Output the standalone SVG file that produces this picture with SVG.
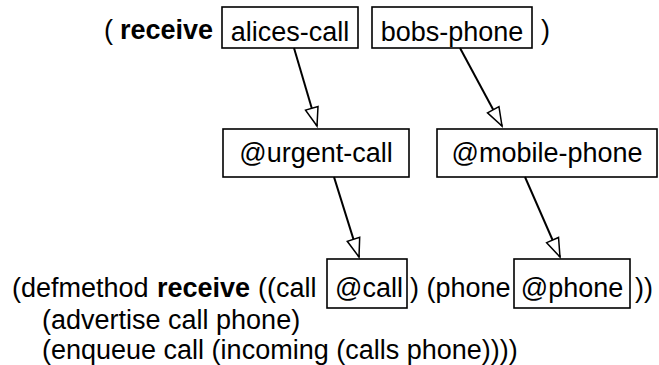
<svg xmlns="http://www.w3.org/2000/svg" width="659" height="365" viewBox="0 0 659 365">
  <style>
    text { font-family: "Liberation Sans", Arial, Helvetica, sans-serif; font-size: 27px; fill: #000; }
    .b { font-weight: bold; }
    .lbl { text-anchor: middle; }
    .box { fill: #fff; stroke: #000; stroke-width: 1.6; }
    .edge { fill: none; stroke: #000; stroke-width: 2; marker-end: url(#open); }
  </style>
  <defs>
    <marker id="open" markerUnits="userSpaceOnUse" markerWidth="22" markerHeight="18" viewBox="0 0 22 18" refX="20" refY="9" orient="auto">
      <path d="M1.5,2.5 L20,9 L1.5,15.5 Z" fill="#fff" stroke="#000" stroke-width="1.5" stroke-linejoin="miter"/>
    </marker>
  </defs>
  <rect width="659" height="365" fill="#fff"/>

  <g id="code-top">
    <text x="104" y="39">(</text>
    <text x="120" y="39" class="b">receive</text>
    <text x="541" y="39">)</text>
  </g>
  <g id="node-alices-call">
    <rect class="box" x="222" y="7" width="136" height="41"/>
    <text class="lbl" x="290" y="41">alices-call</text>
  </g>
  <g id="node-bobs-phone">
    <rect class="box" x="372" y="7" width="160" height="41"/>
    <text class="lbl" x="452" y="41">bobs-phone</text>
  </g>
  <g id="node-urgent-call">
    <rect class="box" x="223" y="129" width="186" height="48"/>
    <text class="lbl" x="316" y="162">@urgent-call</text>
  </g>
  <g id="node-mobile-phone">
    <rect class="box" x="437" y="129" width="220" height="48"/>
    <text class="lbl" x="547" y="162">@mobile-phone</text>
  </g>
  <g id="code-bottom">
    <text x="12" y="297">(defmethod</text>
    <text x="157" y="297" class="b">receive</text>
    <text x="258" y="297">((call</text>
    <text x="410" y="297">) (phone</text>
    <text x="635" y="297">))</text>
    <text x="42" y="329">(advertise call phone)</text>
    <text x="42" y="359">(enqueue call (incoming (calls phone))))</text>
  </g>
  <g id="node-call">
    <rect class="box" x="327" y="259" width="80" height="49"/>
    <text class="lbl" x="369" y="297">@call</text>
  </g>
  <g id="node-phone">
    <rect class="box" x="514" y="259" width="116" height="49"/>
    <text class="lbl" x="572" y="297">@phone</text>
  </g>

  <g id="connectors">
    <line class="edge" x1="294" y1="48" x2="317" y2="126"/>
    <line class="edge" x1="460" y1="48" x2="502" y2="126"/>
    <line class="edge" x1="334" y1="177" x2="359" y2="257"/>
    <line class="edge" x1="525" y1="177" x2="560" y2="257"/>
  </g>
</svg>
